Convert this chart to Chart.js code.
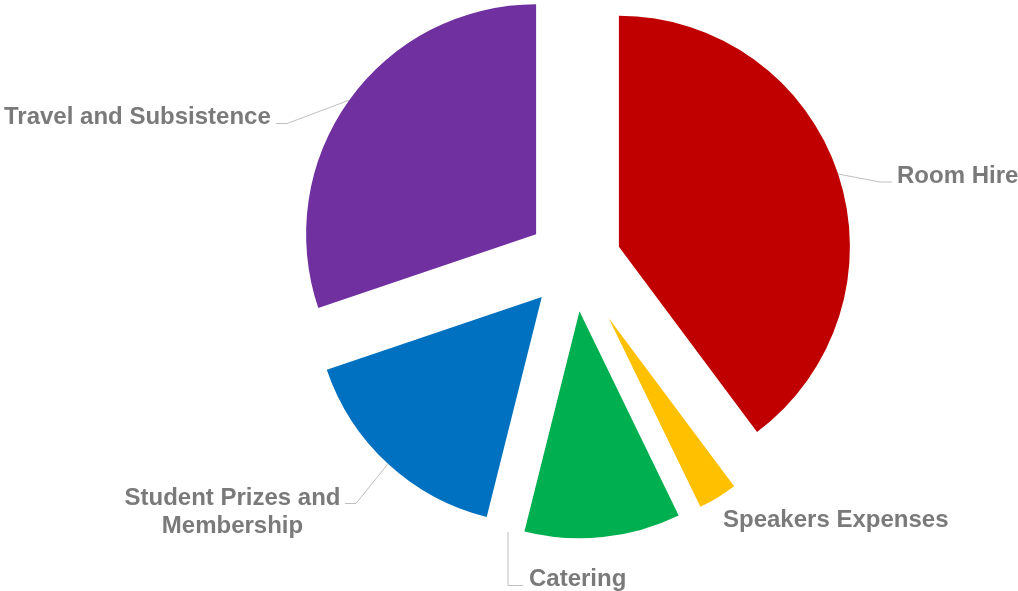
<!DOCTYPE html>
<html lang="en">
<head>
<meta charset="utf-8">
<title>Costs</title>
<script src="https://cdn.jsdelivr.net/npm/chart.js@4.4.1/dist/chart.umd.min.js"></script>
<style>
  html, body { margin: 0; padding: 0; background: #ffffff; }
  #wrap { width: 1018px; height: 591px; position: relative; }
</style>
</head>
<body>
<div id="wrap"><canvas id="costChart"></canvas></div>
<script>
// Data (share of total, %)
const categories = [
  "Room Hire",
  "Speakers Expenses",
  "Catering",
  ["Student Prizes and", "Membership"],
  "Travel and Subsistence",
];
const shares = [39.8, 3.0, 11.1, 15.9, 30.2];

// Styling
const sliceColors = ["#C00000", "#FFC000", "#00B050", "#0070C0", "#7030A0"];
const explode = [47, 66, 50, 48, 47]; // px each slice is pulled out
const sliceRadius = [231, 210, 227, 227, 230];
const labelColor = "#7a7a7a";
const leaderColor = "#bfbfbf";
const labelFont = 'bold 24px "Liberation Sans", Arial, sans-serif';

// where each label sits (text baseline) and its leader elbow points
const labelLayout = [
  { x: 897, y: 183, align: "left", fromArc: true, leader: [[880, 182], [892, 182]] },
  { x: 723, y: 527, align: "left", fromArc: false, leader: null },
  { x: 529, y: 586, align: "left", fromArc: false, leader: [[508, 532], [508, 585.5], [523, 585.5]] },
  { x: 232.5, y: 505, align: "center", lineHeight: 28, fromArc: true, leader: [[356, 503.5], [345, 503.5]] },
  { x: 4, y: 124, align: "left", fromArc: true, leader: [[287, 123.5], [276, 123.5]] },
];

document.addEventListener("DOMContentLoaded", () => {
  // Chart.js enlarges offset arcs and trims their angle (via circumference),
  // so keep the real angles and give each slice its own radius
  const radiusFix = {
    id: "radiusFix",
    afterDatasetUpdate(chart, args) {
      args.meta.data.forEach((arc, i) => {
        arc.circumference = Math.PI / 2; // makes the internal "fix" zero
        arc.outerRadius = sliceRadius[i];
      });
    },
  };

  // Data labels with leader lines
  const sliceLabels = {
    id: "sliceLabels",
    afterDatasetsDraw(chart) {
      const ctx = chart.ctx;
      const arcs = chart.getDatasetMeta(0).data;
      ctx.save();
      arcs.forEach((arc, i) => {
        const lay = labelLayout[i];
        if (lay.leader) {
          const pts = [];
          if (lay.fromArc) {
            const mid = (arc.startAngle + arc.endAngle) / 2;
            const r = explode[i] + sliceRadius[i];
            pts.push([arc.x + Math.cos(mid) * r, arc.y + Math.sin(mid) * r]);
          }
          lay.leader.forEach((p) => pts.push(p));
          ctx.beginPath();
          ctx.strokeStyle = leaderColor;
          ctx.lineWidth = 1;
          pts.forEach((p, k) => (k === 0 ? ctx.moveTo(p[0], p[1]) : ctx.lineTo(p[0], p[1])));
          ctx.stroke();
        }
        const lines = Array.isArray(categories[i]) ? categories[i] : [categories[i]];
        ctx.font = labelFont;
        ctx.fillStyle = labelColor;
        ctx.textAlign = lay.align;
        ctx.textBaseline = "alphabetic";
        lines.forEach((t, k) => {
          ctx.fillText(t, lay.x, lay.y + k * (lay.lineHeight || 28));
        });
      });
      ctx.restore();
    },
  };

  const ctx = document.getElementById("costChart").getContext("2d");
  new Chart(ctx, {
    type: "pie",
    data: {
      labels: categories,
      datasets: [
        {
          data: shares,
          backgroundColor: sliceColors,
          borderWidth: 0,
          offset: explode.map((d) => d * 4), // arc draws offset / 4
        },
      ],
    },
    options: {
      responsive: true,
      maintainAspectRatio: false,
      animation: false,
      events: [],
      radius: 230,
      layout: { padding: { left: 130.6, right: 0, top: 0, bottom: 67.8 } },
      plugins: {
        legend: { display: false },
        tooltip: { enabled: false },
      },
    },
    plugins: [radiusFix, sliceLabels],
  });
});
</script>
</body>
</html>
